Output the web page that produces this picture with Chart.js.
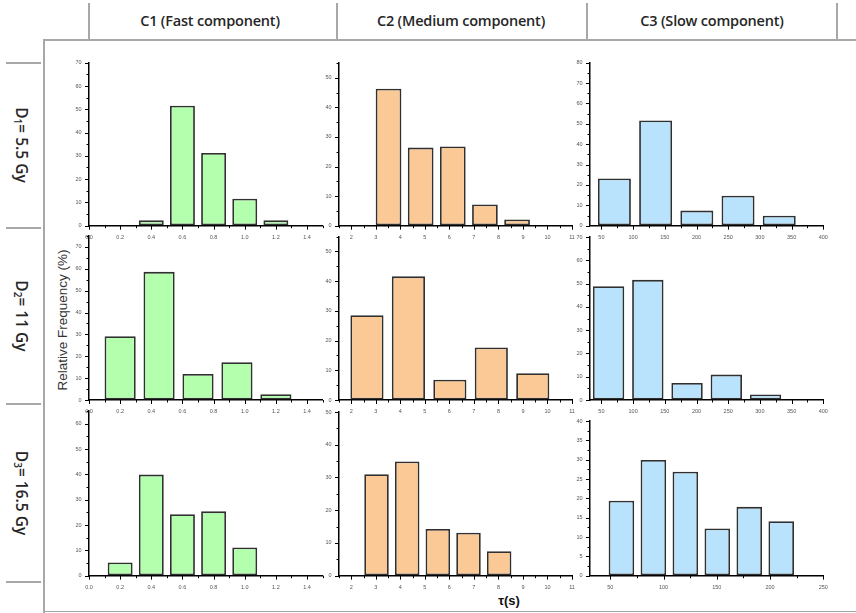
<!DOCTYPE html>
<html><head><meta charset="utf-8">
<script src="https://cdn.jsdelivr.net/npm/chart.js@4.4.1/dist/chart.umd.min.js"></script>
<style>
html,body{margin:0;padding:0;background:#fff;}
#stage{position:relative;width:856px;height:613px;overflow:hidden;background:#fff;}
#stage canvas{position:absolute;left:0;top:0;}
.ln{position:absolute;background:#a8a8a8;}
.hdr{position:absolute;top:20px;transform:translate(-50%,-50%);font-family:"Open Sans","Noto Sans",sans-serif;font-size:14.5px;font-weight:600;letter-spacing:-0.2px;color:#262626;white-space:nowrap;}
.rowlab{position:absolute;left:22px;transform:translate(-50%,-50%);writing-mode:vertical-rl;font-family:"Open Sans","Noto Sans",sans-serif;font-size:15.5px;font-weight:600;color:#262626;white-space:nowrap;}
.rowlab sub{font-size:10px;}
#ylab{position:absolute;left:62px;top:320px;transform:translate(-50%,-50%) rotate(-90deg);font-family:"Liberation Sans",Arial,sans-serif;font-size:13.5px;color:#333;white-space:nowrap;}
#xlab{position:absolute;left:509px;top:600px;transform:translate(-50%,-50%);font-family:"Liberation Sans",Arial,sans-serif;font-size:13px;font-weight:bold;color:#111;white-space:nowrap;}
</style></head>
<body>
<div id="stage"></div>
<script>
// ---- text ----
const columnTitles = ['C1 (Fast component)', 'C2 (Medium component)', 'C3 (Slow component)'];
const rowDoseIndex = ['1', '2', '3'];
const rowDoseValue = ['5.5 Gy', '11 Gy', '16.5 Gy'];
const yAxisTitle = 'Relative Frequency (%)';
const xAxisTitle = 'τ(s)';

// ---- data: bin centres (τ) and relative frequency (%) ----
const c1d1Tau = [0.4, 0.6, 0.8, 1.0, 1.2];
const c1d1Freq = [2.3, 51.5, 31.2, 11.6, 2.3];
const c1d2Tau = [0.2, 0.45, 0.7, 0.95, 1.2];
const c1d2Freq = [29.2, 58.6, 11.9, 17.3, 2.6];
const c1d3Tau = [0.2, 0.4, 0.6, 0.8, 1.0];
const c1d3Freq = [5.2, 39.9, 24.3, 25.4, 11.1];

const c2d1Tau = [3.52, 4.83, 6.14, 7.45, 8.76];
const c2d1Freq = [46.3, 26.4, 26.8, 7.2, 2.1];
const c2d2Tau = [2.64, 4.33, 6.02, 7.71, 9.4];
const c2d2Freq = [28.5, 41.6, 6.8, 17.7, 9.0];
const c2d3Tau = [3.03, 4.28, 5.53, 6.78, 8.03];
const c2d3Freq = [31.0, 34.9, 14.3, 13.1, 7.5];

const c3d1Tau = [70.5, 135.5, 200.5, 265.5, 330.5];
const c3d1Freq = [23.2, 51.6, 7.4, 14.7, 4.9];
const c3d2Tau = [61.3, 123.2, 185.1, 247.0, 308.9];
const c3d2Freq = [48.9, 51.6, 7.3, 10.9, 2.4];
const c3d3Tau = [60.5, 90.5, 120.5, 150.5, 180.5, 210.5];
const c3d3Freq = [19.4, 29.9, 26.9, 12.2, 17.8, 14.1];

// ---- axes: [min, max, minor step, labelled step] ----
const xAxisC1 = [0, 1.5, 0.1, 0.2];
const xAxisC2 = [1.5, 11, 0.5, 1];
const xAxisC3a = [32, 400, 25, 50];
const xAxisC3b = [31, 250, 25, 50];
const yAxisR1 = [[0, 70, 5, 10], [0, 55, 5, 10], [0, 80, 5, 10]];
const yAxisR2 = [[0, 75, 5, 10], [0, 55, 5, 10], [0, 70, 5, 10]];
const yAxisR3 = [[0, 65, 5, 10], [0, 50, 5, 10], [0, 40, 2.5, 5]];

// ---- styling / layout ----
const fills = ['#b3ffae', '#fbc996', '#b9e3fc'];
const plotLeft = [89, 339, 590];
const plotRight = [322.6, 572, 823.3];
const plotBottom = [225.7, 400, 575.7];
const plotTop = [[62.7, 63, 62.7], [236, 236.5, 237], [411, 412, 421]];
const W = 856, H = 613, YW = 30, XH = 20;

const stage = document.getElementById('stage');

// frame lines
function line(x, y, w, h) { const d = document.createElement('div'); d.className = 'ln'; d.style.left = x + 'px'; d.style.top = y + 'px'; d.style.width = w + 'px'; d.style.height = h + 'px'; stage.appendChild(d); }
line(43, 39, W - 43, 1.5);
line(43, 39, 1.5, H - 39);
line(43, 610.5, W - 43, 1);
[89, 337, 587, 837].forEach(x => line(x - 1, 3, 2, 37));
[62.7, 228, 404, 582].forEach(y => line(6, y - 1, 35, 2));

columnTitles.forEach((t, i) => {
  const d = document.createElement('div'); d.className = 'hdr'; d.textContent = t;
  d.style.left = ([210, 461, 712][i]) + 'px'; stage.appendChild(d);
});
rowDoseIndex.forEach((s, i) => {
  const d = document.createElement('div'); d.className = 'rowlab';
  d.innerHTML = 'D<sub>' + s + '</sub>= ' + rowDoseValue[i];
  d.style.top = ([145, 316, 493][i]) + 'px'; stage.appendChild(d);
});
const yl = document.createElement('div'); yl.id = 'ylab'; yl.textContent = yAxisTitle; stage.appendChild(yl);
const xl = document.createElement('div'); xl.id = 'xlab'; xl.textContent = xAxisTitle; stage.appendChild(xl);

function isMajor(v, major) { const r = v / major; return Math.abs(r - Math.round(r)) < 1e-6; }

const tickPlugin = {
  id: 'minorTicks',
  afterDraw(chart) {
    const ctx = chart.ctx; const ca = chart.chartArea;
    ctx.save(); ctx.strokeStyle = '#000'; ctx.lineWidth = 1;
    const xs = chart.scales.x, ys = chart.scales.y;
    xs.ticks.forEach(t => {
      const p = Math.round(xs.getPixelForValue(t.value)) + 0.5;
      const len = isMajor(t.value, xs.options.majorStep) ? 4 : 2.5;
      ctx.beginPath(); ctx.moveTo(p, ca.bottom); ctx.lineTo(p, ca.bottom + len); ctx.stroke();
    });
    ys.ticks.forEach(t => {
      const p = Math.round(ys.getPixelForValue(t.value)) + 0.5;
      const len = isMajor(t.value, ys.options.majorStep) ? 4 : 2.5;
      ctx.beginPath(); ctx.moveTo(ca.left, p); ctx.lineTo(ca.left - len, p); ctx.stroke();
    });
    ctx.restore();
  }
};

function makePanel(row, col, tau, freq, xAx, yAx) {
  const cv = document.createElement('canvas'); cv.width = W; cv.height = H; stage.appendChild(cv);
  const top = plotTop[row][col];
  const fmt = col === 0 ? (v => v.toFixed(1)) : (v => String(Math.round(v)));
  new Chart(cv.getContext('2d'), {
    type: 'bar',
    data: {
      datasets: [{
        data: tau.map((t, i) => ({ x: t, y: freq[i] })),
        xAxisID: 'xb', yAxisID: 'y',
        backgroundColor: fills[col], borderColor: '#303030', borderWidth: 1.8,
        borderSkipped: false, barPercentage: 0.8, categoryPercentage: 1.0
      }]
    },
    options: {
      responsive: false, animation: false, devicePixelRatio: 1,
      events: [],
      layout: { padding: { left: plotLeft[col] - YW, top: top, right: W - plotRight[col], bottom: H - plotBottom[row] - XH } },
      plugins: { legend: { display: false }, tooltip: { enabled: false }, title: { display: false } },
      scales: {
        xb: { type: 'linear', display: false, min: xAx[0], max: xAx[1], offset: false, ticks: { stepSize: 10000 } },
        x: {
          type: 'linear', position: 'bottom', min: xAx[0], max: xAx[1], offset: false, majorStep: xAx[3],
          afterFit: s => { s.height = XH; },
          grid: { display: true, drawOnChartArea: false, drawTicks: true, tickLength: 4, color: 'rgba(0,0,0,0)', tickColor: 'rgba(0,0,0,0)', offset: false },
          border: { display: true, color: '#000', width: 1.5 },
          ticks: {
            stepSize: xAx[2], includeBounds: false, autoSkip: false, maxRotation: 0, padding: 4.5,
            font: { family: 'Liberation Sans', size: 5.5 }, color: '#555',
            callback: v => isMajor(v, xAx[3]) ? fmt(v) : ''
          }
        },
        y: {
          type: 'linear', position: 'left', min: yAx[0], max: yAx[1], majorStep: yAx[3],
          afterFit: s => { s.width = YW; },
          grid: { display: true, drawOnChartArea: false, drawTicks: true, tickLength: 4, color: 'rgba(0,0,0,0)', tickColor: 'rgba(0,0,0,0)' },
          border: { display: true, color: '#000', width: 1.5 },
          ticks: {
            stepSize: yAx[2], includeBounds: false, autoSkip: false, padding: 3.5,
            font: { family: 'Liberation Sans', size: 5.5 }, color: '#555',
            callback: v => isMajor(v, yAx[3]) ? String(Math.round(v)) : ''
          }
        }
      }
    },
    plugins: [tickPlugin]
  });
}

makePanel(0, 0, c1d1Tau, c1d1Freq, xAxisC1, yAxisR1[0]);
makePanel(0, 1, c2d1Tau, c2d1Freq, xAxisC2, yAxisR1[1]);
makePanel(0, 2, c3d1Tau, c3d1Freq, xAxisC3a, yAxisR1[2]);
makePanel(1, 0, c1d2Tau, c1d2Freq, xAxisC1, yAxisR2[0]);
makePanel(1, 1, c2d2Tau, c2d2Freq, xAxisC2, yAxisR2[1]);
makePanel(1, 2, c3d2Tau, c3d2Freq, xAxisC3a, yAxisR2[2]);
makePanel(2, 0, c1d3Tau, c1d3Freq, xAxisC1, yAxisR3[0]);
makePanel(2, 1, c2d3Tau, c2d3Freq, xAxisC2, yAxisR3[1]);
makePanel(2, 2, c3d3Tau, c3d3Freq, xAxisC3b, yAxisR3[2]);
</script>
</body></html>
